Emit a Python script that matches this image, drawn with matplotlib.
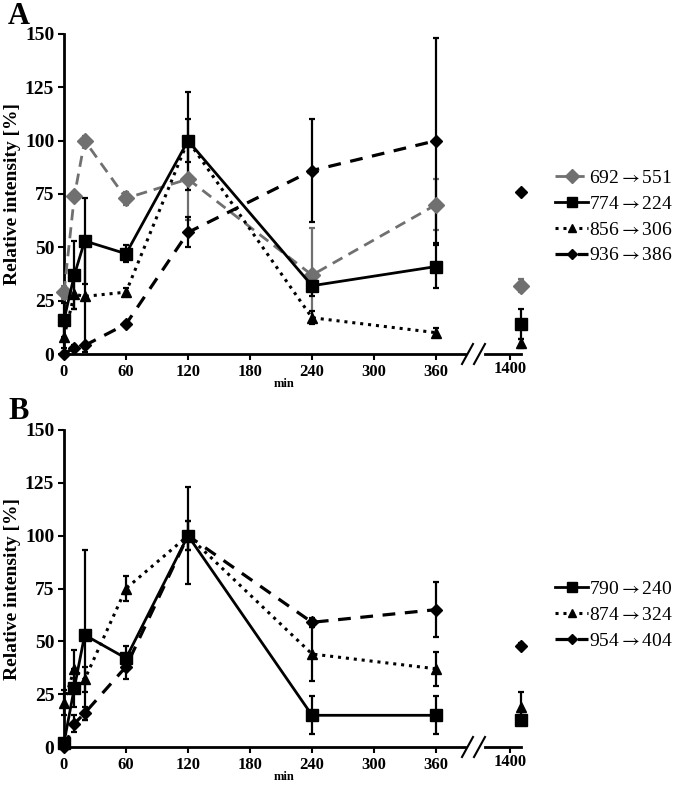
"""
Two-panel time course of relative intensities with a broken time axis.
"""

import numpy as np
from matplotlib import pyplot as plt
from matplotlib.lines import Line2D
import matplotlib

matplotlib.use('agg')

plt.rcParams['font.family'] = ['Liberation Serif', 'DejaVu Sans']
plt.rcParams['mathtext.fontset'] = 'stix'

# time points (min); last one sits behind the axis break
times = [0, 10, 20, 60, 120, 240, 360, 1440]

# panel A
a_labels = ['692$\\rightarrow$551', '774$\\rightarrow$224',
            '856$\\rightarrow$306', '936$\\rightarrow$386']
a_692 = [29, 74, 100, 73, 82, 37, 70, 32]
a_692_err = [3, 2, 2, 3, 19, 22, 12, 3]
a_774 = [16, 37, 53, 47, 100, 32, 41, 14]
a_774_err = [8, 16, 20, 4, 23, 5, 10, 7]
a_856 = [8, 28, 27, 29, 100, 17, 10, 5]
a_856_err = [5, 7, 26, 2, 10, 3, 2, 2]
a_936 = [0, 3, 4, 14, 57, 86, 100, 76]
a_936_err = [0, 1, 1, 1, 7, 24, 48, 1]

# panel B
b_labels = ['790$\\rightarrow$240', '874$\\rightarrow$324', '954$\\rightarrow$404']
b_790 = [2, 28, 53, 42, 100, 15, 15, 13]
b_790_err = [2, 9, 40, 6, 23, 9, 9, 2]
b_874 = [21, 37, 32, 75, 100, 44, 37, 19]
b_874_err = [6, 9, 6, 6, 7, 13, 8, 7]
b_954 = [0, 11, 16, 38, 100, 59, 65, 48]
b_954_err = [0, 4, 3, 6, 7, 2, 13, 1]

GRAY = '#707070'
W, H = 678, 789

styles_a = [
    dict(color=GRAY, ls=(0, (4, 2.5)), marker='D', ms=8, lw=2),
    dict(color='black', ls='-', marker='s', ms=9, lw=2),
    dict(color='black', ls=(0, (1, 1.6)), marker='^', ms=7.5, lw=2.2),
    dict(color='black', ls=(0, (4, 3)), marker='D', ms=6.5, lw=2.3),
]
styles_b = [styles_a[1], styles_a[2], styles_a[3]]


def fx(px):
    return px / W


def fy(py):
    return 1 - py / H


fig = plt.figure(figsize=(W / 100, H / 100), dpi=100)


def make_panel(top_px, bot_px, series, errs, labels, styles, letter, leg_y):
    h = fy(top_px) - fy(bot_px)
    ax = fig.add_axes([fx(64), fy(bot_px), fx(465) - fx(64), h])
    ax2 = fig.add_axes([fx(485), fy(bot_px), fx(521) - fx(485), h])

    handles = []
    for vals, err, st in zip(series, errs, styles):
        kw = dict(color=st['color'], marker=st['marker'],
                  mec=st['color'], mfc=st['color'])
        ax.plot(times[:-1], vals[:-1], ls=st['ls'], lw=st['lw'], ms=st['ms'],
                clip_on=False, zorder=3, **kw)
        ax.errorbar(times[:-1], vals[:-1], yerr=err[:-1], fmt='none',
                    ecolor=st['color'], elinewidth=1.6, capsize=2.5,
                    capthick=1.6, clip_on=False, zorder=2)
        ax2.plot(times[-1:], vals[-1:], ls='none', ms=st['ms'], clip_on=False,
                 zorder=3, **kw)
        ax2.errorbar(times[-1:], vals[-1:], yerr=err[-1:], fmt='none',
                     ecolor=st['color'], elinewidth=1.6, capsize=2.5,
                     capthick=1.6, clip_on=False, zorder=2)
        handles.append(Line2D([], [], ls=st['ls'], lw=st['lw'],
                              markersize=st['ms'] * 0.85, **kw))

    ax.set_xlim(0, 388)
    ax.set_ylim(0, 150)
    ax.set_xticks([0, 60, 120, 180, 240, 300, 360])
    ax.set_yticks([0, 25, 50, 75, 100, 125, 150])
    ax2.set_xlim(1309, 1440)
    ax2.set_ylim(0, 150)
    ax2.set_xticks([1400])
    ax2.set_yticks([])

    for a in (ax, ax2):
        for s in ('top', 'right'):
            a.spines[s].set_visible(False)
        a.spines['bottom'].set_linewidth(2)
        a.tick_params(axis='both', direction='out', length=4, width=1.5, pad=3)
        a.tick_params(axis='x', labelsize=12)
        a.tick_params(axis='y', labelsize=14)
        for t in a.get_xticklabels() + a.get_yticklabels():
            t.set_fontweight('bold')
    ax.spines['left'].set_linewidth(2)
    ax2.spines['left'].set_visible(False)
    ax2.tick_params(axis='x', pad=1)

    ax.set_ylabel('Relative intensity [%]', fontsize=14, fontweight='bold',
                  labelpad=3)
    fig.text(fx(284), fy(bot_px + 30), 'min', fontsize=9, fontweight='bold',
             ha='center', va='center')

    # break marks
    for x0 in (462, 474):
        fig.add_artist(Line2D([fx(x0), fx(x0 + 11)], [fy(bot_px + 10), fy(bot_px - 10)],
                              color='black', lw=1.5))

    fig.text(fx(8), fy(top_px - 18), letter, fontsize=22, fontweight='bold',
             ha='left', va='center')

    fig.legend(handles, labels, loc='center left',
               bbox_to_anchor=(fx(555), fy(leg_y)), frameon=False,
               prop=dict(size=14), handlelength=1.7, handletextpad=0.05,
               labelspacing=0.42, borderpad=0, borderaxespad=0)
    return ax, ax2


make_panel(34, 354, [a_692, a_774, a_856, a_936],
           [a_692_err, a_774_err, a_856_err, a_936_err],
           a_labels, styles_a, 'A', 217)
make_panel(430, 747, [b_790, b_874, b_954],
           [b_790_err, b_874_err, b_954_err],
           b_labels, styles_b, 'B', 615)

plt.savefig('out.png', dpi=100)
